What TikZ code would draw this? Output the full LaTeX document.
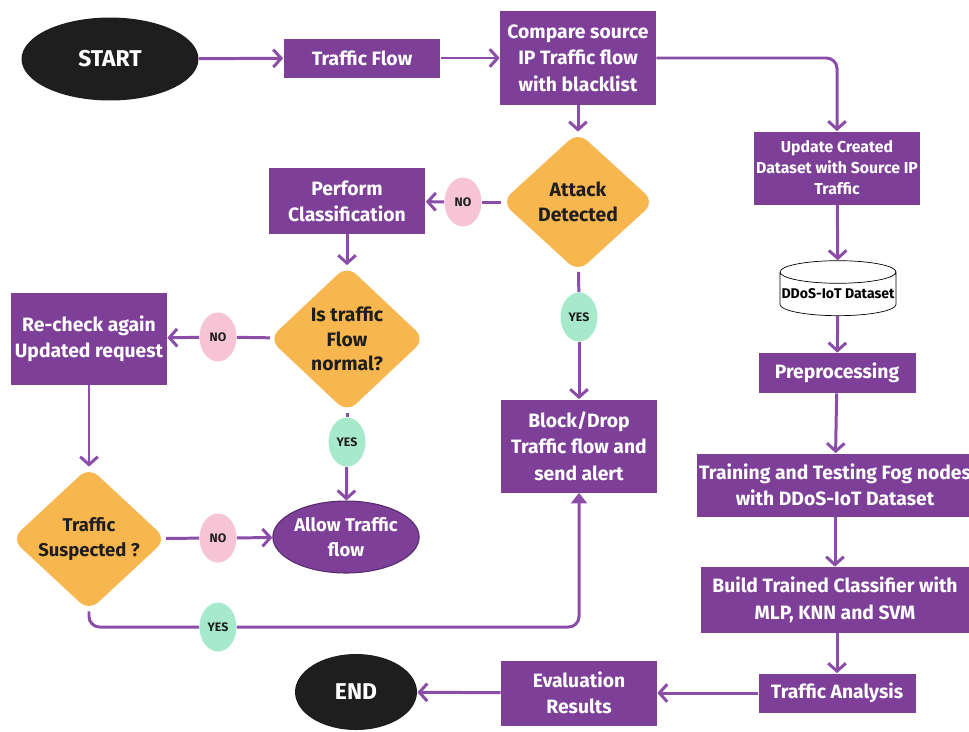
\documentclass[tikz,border=0pt]{standalone}
\usepackage{fontspec}
\setmainfont{Fira Sans}
\usetikzlibrary{shapes.geometric,arrows.meta}
\definecolor{plum}{HTML}{7D3F98}
\definecolor{wire}{HTML}{8A4DA8}
\definecolor{amber}{HTML}{F8B64E}
\definecolor{blush}{HTML}{F6C4D4}
\definecolor{mint}{HTML}{A6EACB}
\definecolor{ink}{HTML}{1E1E1E}
\tikzset{
  proc/.style={rectangle, fill=plum, text=white, align=center, inner sep=1pt,
    minimum width=3.14cm, font=\bfseries\fontsize{11}{15}\selectfont},
  term/.style={ellipse, fill=ink, text=white, inner sep=0pt,
    font=\bfseries\fontsize{13}{15}\selectfont},
  cond/.style={diamond, fill=amber, text=ink, align=center, inner sep=0pt,
    rounded corners=7pt, font=\bfseries\fontsize{11}{14}\selectfont},
  tagno/.style={ellipse, fill=blush, text=ink, inner sep=0pt,
    minimum width=0.74cm, minimum height=0.98cm, font=\bfseries\fontsize{7}{8}\selectfont},
  tagyes/.style={tagno, fill=mint},
  flow/.style={draw=wire, line width=1.7pt, rounded corners=6pt},
  go/.style={flow, -{Straight Barb[length=4.5pt,width=10pt]}},
}
\begin{document}
\begin{tikzpicture}[x=0.02cm, y=-0.02cm]
  \useasboundingbox (0,0) rectangle (969,731);
  % top row
  \node[term, minimum width=3.54cm, minimum height=1.66cm] (start) at (110,59) {START};
  \node[proc, minimum height=0.78cm] (flow) at (362,58) {Traffic Flow};
  \node[proc, minimum width=3.12cm, minimum height=1.88cm] (cmp) at (578,58) {Compare source\\IP Traffic flow\\with blacklist};
  % middle column
  \node[cond, minimum width=3.06cm, minimum height=2.8cm] (atk) at (578,202) {Attack\\Detected};
  \node[tagno] (no1) at (463,202) {NO};
  \node[tagyes] (yes1) at (579,317) {YES};
  \node[proc, minimum width=3.12cm, minimum height=1.86cm] (block) at (579,446) {Block/Drop\\Traffic flow and\\send alert};
  % left part
  \node[proc, minimum height=1.32cm] (cls) at (347,201) {Perform\\Classification};
  \node[cond, minimum width=3.12cm, minimum height=2.94cm] (norm) at (347,339) {Is traffic\\Flow\\normal?};
  \node[tagno] (no2) at (218,337) {NO};
  \node[proc, minimum width=3.12cm, minimum height=1.84cm] (rechk) at (89,339) {Re-check again\\Updated request};
  \node[tagyes] (yes2) at (347,442) {YES};
  \node[ellipse, fill=plum, draw=plum!70!black, line width=0.6pt, text=white, align=center,
    inner sep=0pt, minimum width=2.44cm, minimum height=1.44cm,
    font=\bfseries\fontsize{10.5}{14}\selectfont] (allow) at (346,537) {Allow Traffic\\flow};
  \node[cond, minimum width=3.1cm, minimum height=2.52cm,
    font=\bfseries\fontsize{10.5}{14}\selectfont] (susp) at (89,539) {Traffic\\Suspected ?};
  \node[tagno] (no3) at (218,538) {NO};
  \node[tagyes] (yes3) at (218,627) {YES};
  \coordinate (bend) at (89,627);
  % right column
  \node[proc, minimum height=1.46cm, font=\bfseries\fontsize{9}{12}\selectfont] (upd) at (837,168) {Update Created\\Dataset with Source IP\\Traffic};
  \node[cylinder, shape border rotate=90, draw=black, fill=white, aspect=0.2, inner sep=0pt,
    minimum width=2.32cm, minimum height=1.1cm, font=\bfseries\fontsize{8}{10}\selectfont] (data) at (838,294) {DDoS-IoT Dataset};
  \node[proc, minimum height=0.8cm] (pre) at (837,373) {Preprocessing};
  \node[proc, minimum width=5.36cm, minimum height=1.26cm] (train) at (835,485) {Training and Testing Fog nodes\\with DDoS-IoT Dataset};
  \node[proc, minimum width=5.36cm, minimum height=1.32cm] (build) at (835,600) {Build Trained Classifier with\\MLP, KNN and SVM};
  \node[proc, minimum height=0.78cm] (ana) at (837,693) {Traffic Analysis};
  \node[proc, minimum width=3.12cm, minimum height=1.3cm] (eval) at (579,693) {Evaluation\\Results};
  \node[term, minimum width=2.44cm, minimum height=1.52cm] (stop) at (356,692) {END};
  % connectors
  \draw[go] (start) -- (flow);
  \draw[go] (flow) -- (cmp);
  \draw[go] (cmp.east) -| (upd.north);
  \draw[go] (cmp) -- (atk);
  \draw[flow] (atk) -- (no1);
  \draw[go] (no1) -- (cls);
  \draw[flow] (atk) -- (yes1);
  \draw[go] (yes1) -- (block);
  \draw[go] (cls) -- (norm);
  \draw[flow] (norm) -- (no2);
  \draw[go] (no2) -- (rechk);
  \draw[flow] (norm) -- (yes2);
  \draw[go] (yes2) -- (allow);
  \draw[go] (rechk) -- (susp);
  \draw[flow] (susp) -- (no3);
  \draw[go] (no3) -- (allow);
  \draw[flow] (susp.south) -- (bend) -- (yes3);
  \draw[flow, -{Triangle[length=6pt,width=9pt]}] (yes3) -| (block.south);
  \draw[go] (upd) -- (data);
  \draw[go] (data) -- (pre);
  \draw[go] (pre) -- (train);
  \draw[go] (train) -- (build);
  \draw[go] (build.south -| ana.north) -- (ana);
  \draw[go] (ana) -- (eval);
  \draw[go] (eval) -- (stop);
\end{tikzpicture}
\end{document}
